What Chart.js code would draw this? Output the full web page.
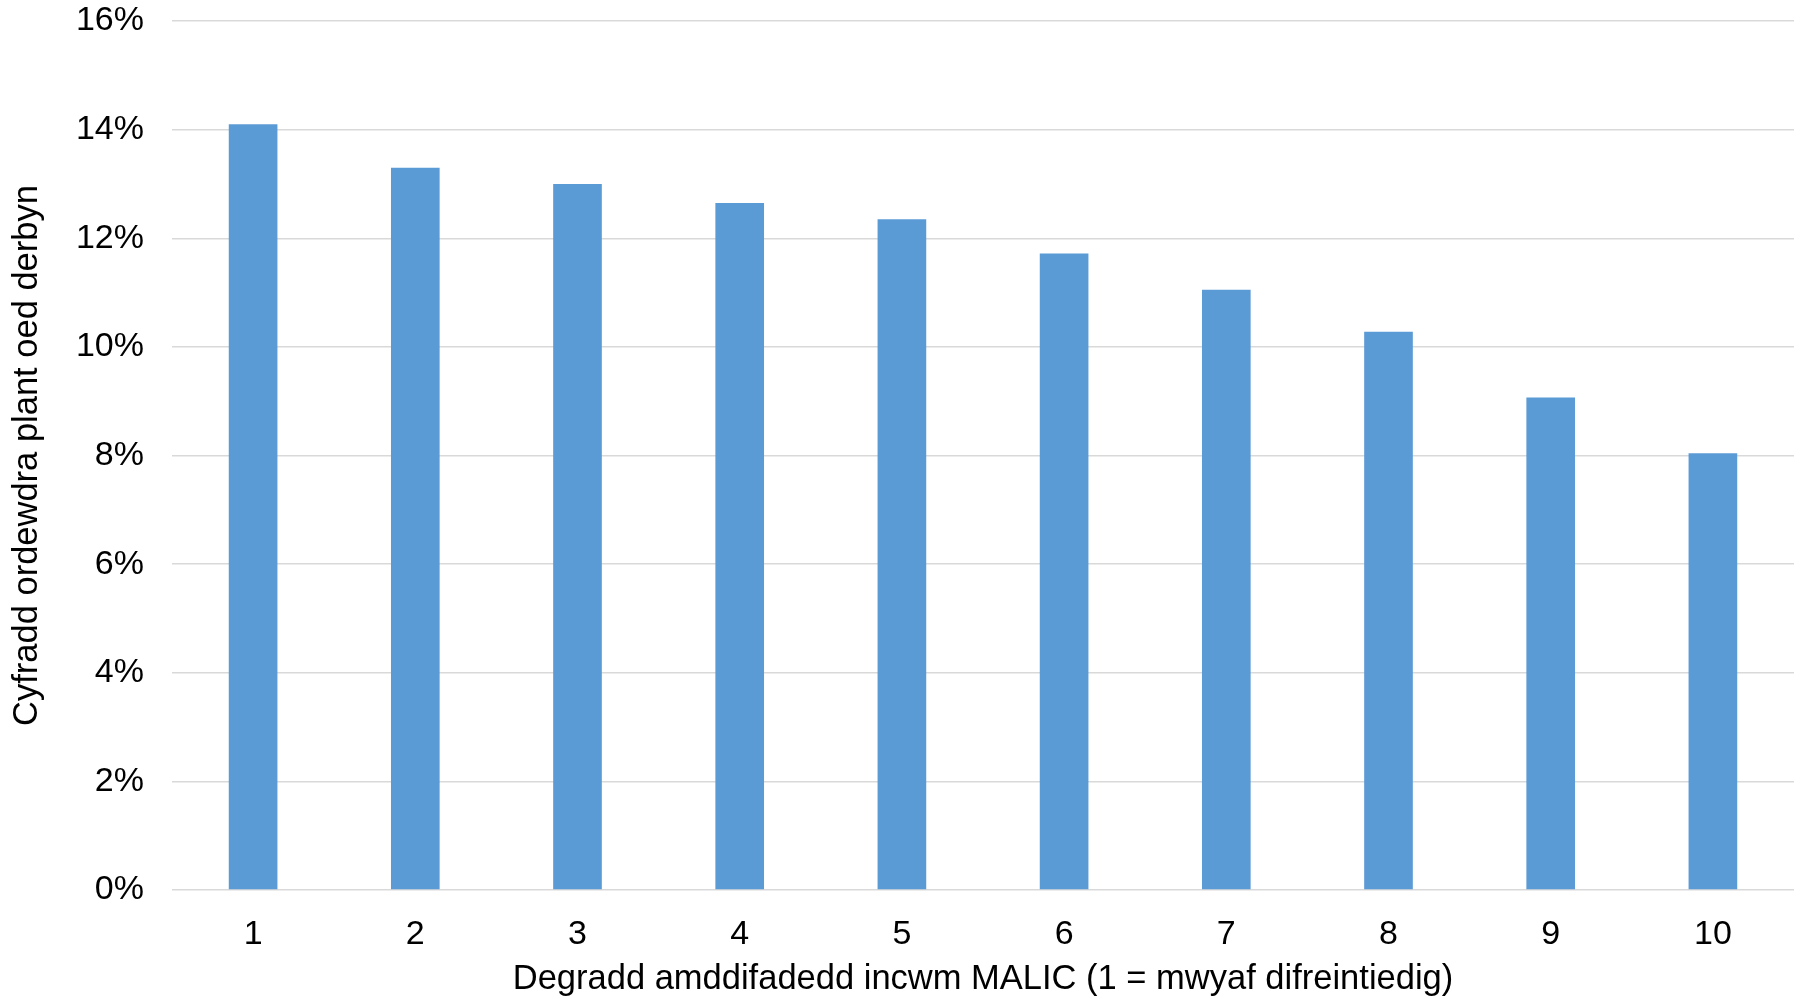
<!DOCTYPE html>
<html>
<head>
<meta charset="utf-8">
<script src="https://cdn.jsdelivr.net/npm/chart.js@4/dist/chart.umd.min.js"></script>
<style>
html,body{margin:0;padding:0;background:#fff;}
#wrap{width:1801px;height:999px;position:relative;}
</style>
</head>
<body>
<div id="wrap"><canvas id="c" width="1801" height="999"></canvas></div>
<script>
const categories = ['1','2','3','4','5','6','7','8','9','10'];
const obesityRate = [14.1, 13.3, 13.0, 12.65, 12.35, 11.72, 11.05, 10.28, 9.07, 8.04];
const yTickValues = [0, 2, 4, 6, 8, 10, 12, 14, 16];
const xTitle = 'Degradd amddifadedd incwm MALIC (1 = mwyaf difreintiedig)';
const yTitle = 'Cyfradd ordewdra plant oed derbyn';

const FONT = "'Liberation Sans', Arial, sans-serif";

new Chart(document.getElementById('c'), {
  type: 'bar',
  data: {
    labels: categories,
    datasets: [{
      data: obesityRate,
      backgroundColor: '#5B9BD5',
      borderWidth: 0,
      categoryPercentage: 1.0,
      barPercentage: 0.3
    }]
  },
  options: {
    responsive: false,
    animation: false,
    devicePixelRatio: 1,
    layout: { padding: { top: 0, right: 7, left: 0, bottom: 0 } },
    plugins: { legend: { display: false }, tooltip: { enabled: false } },
    scales: {
      x: {
        grid: { display: false },
        border: { display: false },
        ticks: { color: '#000', font: { family: FONT, size: 34 }, padding: 16, maxRotation: 0 },
        title: { display: true, text: xTitle, color: '#000', font: { family: FONT, size: 34.5 }, padding: { top: 0, bottom: -1 } },
        afterFit: (s) => { s.height = 109; }
      },
      y: {
        min: 0, max: 16,
        afterBuildTicks: (s) => { s.ticks = yTickValues.map(v => ({ value: v })); },
        grid: { color: '#D9D9D9', lineWidth: 1.5, drawTicks: false },
        border: { display: false },
        ticks: { color: '#000', font: { family: FONT, size: 34 }, padding: 28, callback: (v) => v + '%' },
        title: { display: true, text: yTitle, color: '#000', font: { family: FONT, size: 34.5 }, padding: { top: 7, bottom: 0 } },
        afterFit: (s) => { s.width = 172; s.paddingTop = 21; s.paddingBottom = 0; }
      }
    }
  }
});
</script>
</body>
</html>
